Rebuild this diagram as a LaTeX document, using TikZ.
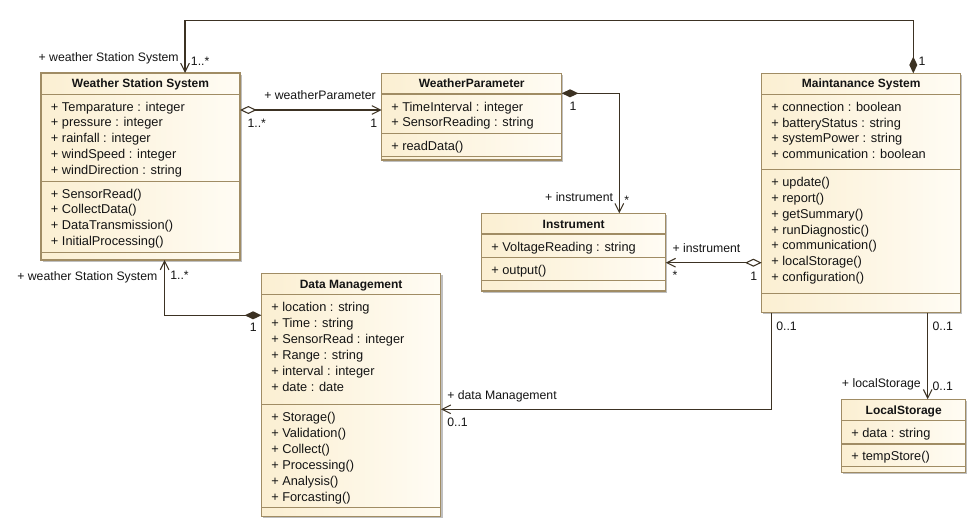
\documentclass[tikz,border=0pt]{standalone}
\usepackage{fontspec}
\setmainfont{Liberation Sans}
\usetikzlibrary{arrows.meta,fit,shadows}

\definecolor{umlborder}{RGB}{160,140,100}
\definecolor{umlfill}{RGB}{251,239,210}
\definecolor{umlfillr}{RGB}{255,252,244}
\definecolor{umlline}{RGB}{60,50,35}
\definecolor{umltext}{RGB}{20,20,20}

\tikzset{
  classbox/.style={draw=umlborder, line width=0.8pt, left color=umlfill, right color=umlfillr,
    inner sep=0pt, outer sep=0pt,
    drop shadow={shadow xshift=1.2pt, shadow yshift=-1.2pt, fill=black, opacity=0.25}},
  sepline/.style={draw=umlborder, line width=0.8pt},
  classtitle/.style={font=\fontsize{9}{11}\selectfont\bfseries, text=umltext, anchor=base, inner sep=0pt},
  member/.style={font=\fontsize{9.6}{12}\selectfont, text=umltext, anchor=base west, inner sep=0pt},
  rolelabel/.style={font=\fontsize{9.2}{11}\selectfont, text=umltext, inner sep=0pt},
  assoc/.style={draw=umlline, line width=0.8pt},
  navi/.tip={Straight Barb[length=6.5pt, width=6.5pt]},
  odiam/.tip={Diamond[open, length=12.5pt, width=6pt]},
  fdiam/.tip={Diamond[length=12.5pt, width=6pt]}
}

\begin{document}
\begin{tikzpicture}[x=0.75pt, y=-0.75pt]

\useasboundingbox (0,0) rectangle (977,528);

% Weather Station System
\node[classbox, fit={(41,73) (240,260)}] (wss) {};
\node[classtitle] (wsstitle) at (wss.north |- 0,87.8) {Weather Station System};
\draw[sepline] (wss.west |- 0,94.3) -- (wss.east |- 0,94.3)
  (wss.west |- 0,181.7) -- (wss.east |- 0,181.7)
  (wss.west |- 0,252.3) -- (wss.east |- 0,252.3);
\foreach \t [count=\i] in {+ Temparature : integer, + pressure : integer, + rainfall : integer,
    + windSpeed : integer, + windDirection : string}
  \node[member] (wssattr\i) at (50.7,{111+15.9*(\i-1)}) {\t};
\foreach \t [count=\i] in {+ SensorRead(), + CollectData(), + DataTransmission(), + InitialProcessing()}
  \node[member] (wssop\i) at (50.7,{198+15.9*(\i-1)}) {\t};

% WeatherParameter
\node[classbox, fit={(381.7,73.3) (561.7,160)}] (wp) {};
\node[classtitle] (wptitle) at (wp.north |- 0,88) {WeatherParameter};
\draw[sepline] (wp.west |- 0,94) -- (wp.east |- 0,94)
  (wp.west |- 0,133.3) -- (wp.east |- 0,133.3)
  (wp.west |- 0,156.7) -- (wp.east |- 0,156.7);
\foreach \t [count=\i] in {+ TimeInterval : integer, + SensorReading : string}
  \node[member] (wpattr\i) at (391,{111+15.9*(\i-1)}) {\t};
\node[member] (wpop1) at (391,150.5) {+ readData()};

% Instrument
\node[classbox, fit={(481.7,213.3) (665.7,291)}] (inst) {};
\node[classtitle] (insttitle) at (inst.north |- 0,228) {Instrument};
\draw[sepline] (inst.west |- 0,234) -- (inst.east |- 0,234)
  (inst.west |- 0,257.3) -- (inst.east |- 0,257.3)
  (inst.west |- 0,280.7) -- (inst.east |- 0,280.7);
\node[member] (instattr1) at (491,251) {+ VoltageReading : string};
\node[member] (instop1) at (491,274) {+ output()};

% Maintanance System
\node[classbox, fit={(761.7,73.3) (960.7,312.7)}] (ms) {};
\node[classtitle] (mstitle) at (ms.north |- 0,88) {Maintanance System};
\draw[sepline] (ms.west |- 0,94.3) -- (ms.east |- 0,94.3)
  (ms.west |- 0,169.3) -- (ms.east |- 0,169.3)
  (ms.west |- 0,293.3) -- (ms.east |- 0,293.3);
\foreach \t [count=\i] in {+ connection : boolean, + batteryStatus : string, + systemPower : string,
    + communication : boolean}
  \node[member] (msattr\i) at (771,{111.3+15.8*(\i-1)}) {\t};
\foreach \t [count=\i] in {+ update(), + report(), + getSummary(), + runDiagnostic(),
    + communication(), + localStorage(), + configuration()}
  \node[member] (msop\i) at (771,{186.7+15.8*(\i-1)}) {\t};

% Data Management
\node[classbox, fit={(261.4,273.3) (440.9,516.7)}] (dm) {};
\node[classtitle] (dmtitle) at (dm.north |- 0,288.5) {Data Management};
\draw[sepline] (dm.west |- 0,294.3) -- (dm.east |- 0,294.3)
  (dm.west |- 0,404.3) -- (dm.east |- 0,404.3)
  (dm.west |- 0,507.3) -- (dm.east |- 0,507.3);
\foreach \t [count=\i] in {+ location : string, + Time : string, + SensorRead : integer,
    + Range : string, + interval : integer, + date : date}
  \node[member] (dmattr\i) at (271,{311+16*(\i-1)}) {\t};
\foreach \t [count=\i] in {+ Storage(), + Validation(), + Collect(), + Processing(),
    + Analysis(), + Forcasting()}
  \node[member] (dmop\i) at (271,{421+16*(\i-1)}) {\t};

% LocalStorage
\node[classbox, fit={(841.7,399.3) (965.7,472.3)}] (ls) {};
\node[classtitle] (lstitle) at (ls.north |- 0,414.5) {LocalStorage};
\draw[sepline] (ls.west |- 0,420.7) -- (ls.east |- 0,420.7)
  (ls.west |- 0,444) -- (ls.east |- 0,444)
  (ls.west |- 0,466.7) -- (ls.east |- 0,466.7);
\node[member] (lsattr1) at (851,437.7) {+ data : string};
\node[member] (lsop1) at (851,460.5) {+ tempStore()};

% associations
\draw[assoc, navi-fdiam] (wss.north -| 185,0) |- (913.3,20.7) -- (ms.north -| 913.3,0);
\draw[assoc, odiam-navi] (wss.east |- 0,110) -- (wp.west |- 0,110);
\draw[assoc, fdiam-navi] (wp.east |- 0,93.3) -| (inst.north -| 619.3,0);
\draw[assoc, odiam-navi] (ms.west |- 0,262.7) -- (inst.east |- 0,262.7);
\draw[assoc, fdiam-navi] (dm.west |- 0,315.3) -| (wss.south -| 164.6,0);
\draw[assoc, -navi] (ms.south -| 771.7,0) |- (dm.east |- 0,409.3);
\draw[assoc, -navi] (ms.south -| 927.7,0) -- (ls.north -| 927.7,0);

% role names and multiplicities
\node[rolelabel, anchor=base east] (wssrole1) at (179,62) {+ weather Station System};
\node[rolelabel, anchor=base west] (wssmult1) at (190.7,65) {1..*};
\node[rolelabel, anchor=base west] (msmult1) at (918.3,65) {1};

\node[rolelabel, anchor=base east] (wprole) at (376,99) {+ weatherParameter};
\node[rolelabel, anchor=base west] (wssmult2) at (247.3,127) {1..*};
\node[rolelabel, anchor=base west] (wpmult1) at (370,127) {1};

\node[rolelabel, anchor=base west] (wpmult2) at (569.3,110) {1};
\node[rolelabel, anchor=base east] (instrole1) at (613.3,201.7) {+ instrument};
\node[rolelabel, anchor=base west] (instmult1) at (624,204) {*};

\node[rolelabel, anchor=base west] (instrole2) at (672.3,252.3) {+ instrument};
\node[rolelabel, anchor=base west] (instmult2) at (672.3,279.5) {*};
\node[rolelabel, anchor=base west] (msmult2) at (750,280) {1};

\node[rolelabel, anchor=base east] (wssrole3) at (157.7,280.7) {+ weather Station System};
\node[rolelabel, anchor=base west] (wssmult3) at (170,279) {1..*};
\node[rolelabel, anchor=base west] (dmmult1) at (249.5,331.7) {1};

\node[rolelabel, anchor=base west] (msmult3) at (776,330.7) {0..1};
\node[rolelabel, anchor=base west] (dmrole) at (447,399) {+ data Management};
\node[rolelabel, anchor=base west] (dmmult2) at (447,426.7) {0..1};

\node[rolelabel, anchor=base west] (msmult4) at (932.3,330.7) {0..1};
\node[rolelabel, anchor=base east] (lsrole) at (921,387.3) {+ localStorage};
\node[rolelabel, anchor=base west] (lsmult) at (932.3,390.7) {0..1};

\end{tikzpicture}
\end{document}
